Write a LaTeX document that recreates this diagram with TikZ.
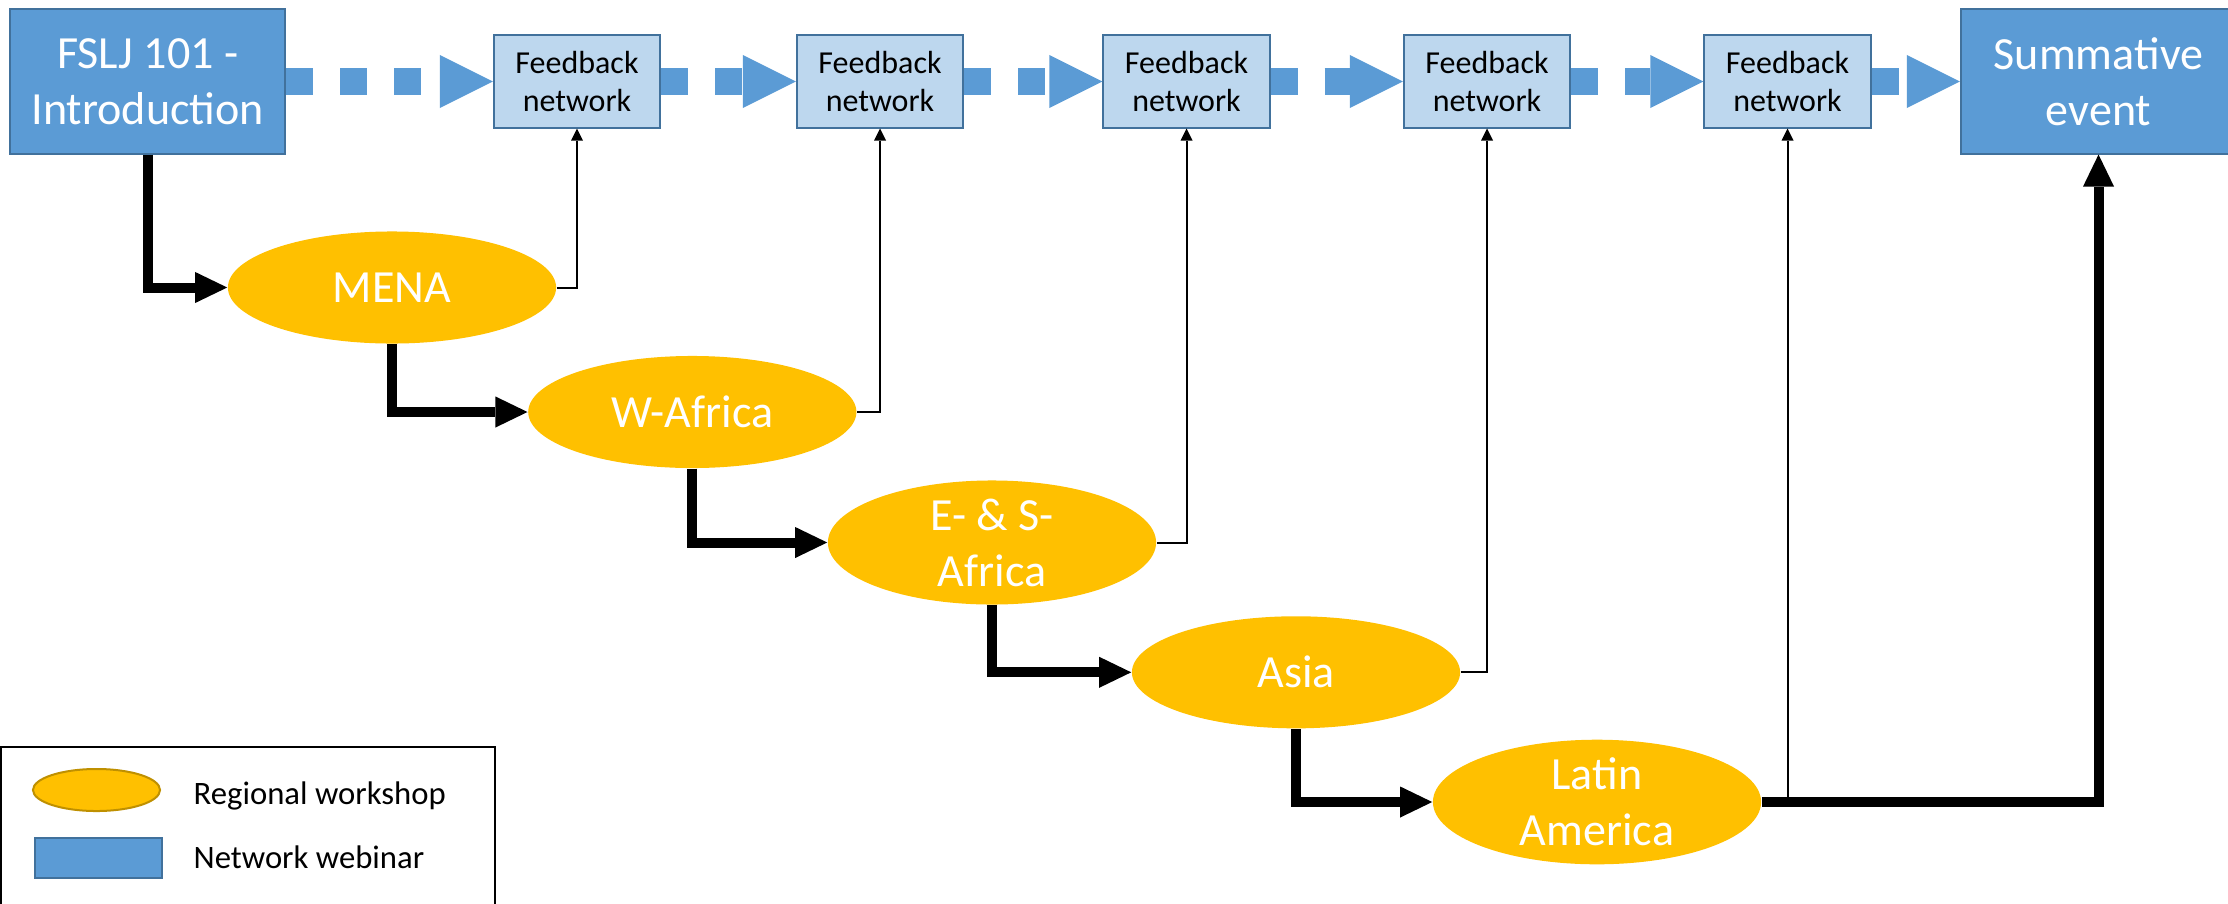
\documentclass[tikz,border=0pt]{standalone}
\usepackage{fontspec}
\setmainfont{Carlito}
\usetikzlibrary{arrows.meta,shapes.geometric}
\definecolor{webblue}{HTML}{5B9BD5}
\definecolor{webedge}{HTML}{41719C}
\definecolor{fbfill}{HTML}{BDD7EE}
\definecolor{gold}{HTML}{FFC000}
\definecolor{goldedge}{HTML}{BF9000}
\begin{document}
\begin{tikzpicture}[x=0.01cm,y=-0.01cm,
  bigfont/.style={font=\fontsize{13.1pt}{15.9pt}\selectfont},
  smallfont/.style={font=\fontsize{9.1pt}{10.8pt}\selectfont},
  webinar/.style={draw=webedge,line width=0.02cm,fill=webblue,text=white,bigfont,align=center,minimum width=2.75cm,minimum height=1.44cm,inner sep=0pt},
  feedback/.style={draw=webedge,line width=0.02cm,fill=fbfill,text=black,smallfont,align=center,minimum width=1.66cm,minimum height=0.92cm,inner sep=0pt},
  workshop/.style={ellipse,fill=gold,text=white,bigfont,align=center,minimum width=3.28cm,minimum height=1.12cm,inner sep=0pt},
  flow/.style={webblue,line width=0.27cm,dash pattern=on 0.27cm off 0.27cm,-{Triangle[length=0.53cm,width=0.53cm,line width=0pt]}},
  mainflow/.style={black,line width=0.1cm,-{Triangle[length=0.32cm,width=0.31cm,line width=0pt]}},
  fbline/.style={black,line width=0.02cm,-{Triangle[length=0.12cm,width=0.12cm,line width=0pt]}},
  legendtext/.style={font=\fontsize{9.3pt}{11pt}\selectfont,text=black,anchor=base west,inner sep=0pt}
]
\useasboundingbox (0,0) rectangle (2228,903);
\clip (0,0) rectangle (2228,903);
\fill[white] (0,0) rectangle (2228,903);

% top row
\node[webinar] (fslj) at (147.75,81.5) {FSLJ 101 -\\Introduction};
\node[feedback] (fb1) at (577,81.5) {Feedback\\network};
\node[feedback] (fb2) at (880,81.5) {Feedback\\network};
\node[feedback] (fb3) at (1186.5,81.5) {Feedback\\network};
\node[feedback] (fb4) at (1487,81.5) {Feedback\\network};
\node[feedback] (fb5) at (1787.5,81.5) {Feedback\\network};
\node[webinar] (summ) at (2098.5,81.5) {Summative\\event};

% regional workshops
\node[workshop] (mena) at (392,287.5) {MENA};
\node[workshop] (wafr) at (692.3,412) {W-Africa};
\node[workshop] (esafr) at (992,542.5) {E- \& S-\\Africa};
\node[workshop] (asia) at (1296,672.3) {Asia};
\node[workshop] (latam) at (1597,802) {Latin\\America};

% dashed blue flow
\draw[flow] (fslj.east) -- (fb1.west);
\draw[flow] (fb1.east) -- (fb2.west);
\draw[flow] (fb2.east) -- (fb3.west);
\draw[flow] (fb3.east) -- (fb4.west);
\draw[flow] (fb4.east) -- (fb5.west);
\draw[flow] (fb5.east) -- (summ.west);

% main thick flow
\draw[mainflow] (fslj.south) |- (mena.west);
\draw[mainflow] (mena.south) |- (wafr.west);
\draw[mainflow] (wafr.south) |- (esafr.west);
\draw[mainflow] (esafr.south) |- (asia.west);
\draw[mainflow] (asia.south) |- (latam.west);
\draw[mainflow] (latam.east) -| (summ.south);

% feedback links
\draw[fbline] (mena.east) -| (fb1.south);
\draw[fbline] (wafr.east) -| (fb2.south);
\draw[fbline] (esafr.east) -| (fb3.south);
\draw[fbline] (asia.east) -| (fb4.south);
\coordinate (j5) at (fb5.south |- latam.east);
\draw[fbline] (j5) -- (fb5.south);

% legend
\draw[black,line width=0.02cm] (1,920) -- (1,747) -- (495,747) -- (495,920);
\node[ellipse,fill=gold,draw=goldedge,line width=0.02cm,minimum width=1.27cm,minimum height=0.42cm,inner sep=0pt] (legws) at (96.5,790) {};
\node[legendtext] (legwstext) at (193,804) {Regional workshop};
\node[draw=webedge,line width=0.02cm,fill=webblue,minimum width=1.27cm,minimum height=0.40cm,inner sep=0pt] (legwb) at (98.5,858) {};
\node[legendtext] (legwbtext) at (193,868) {Network webinar};
\end{tikzpicture}
\end{document}
